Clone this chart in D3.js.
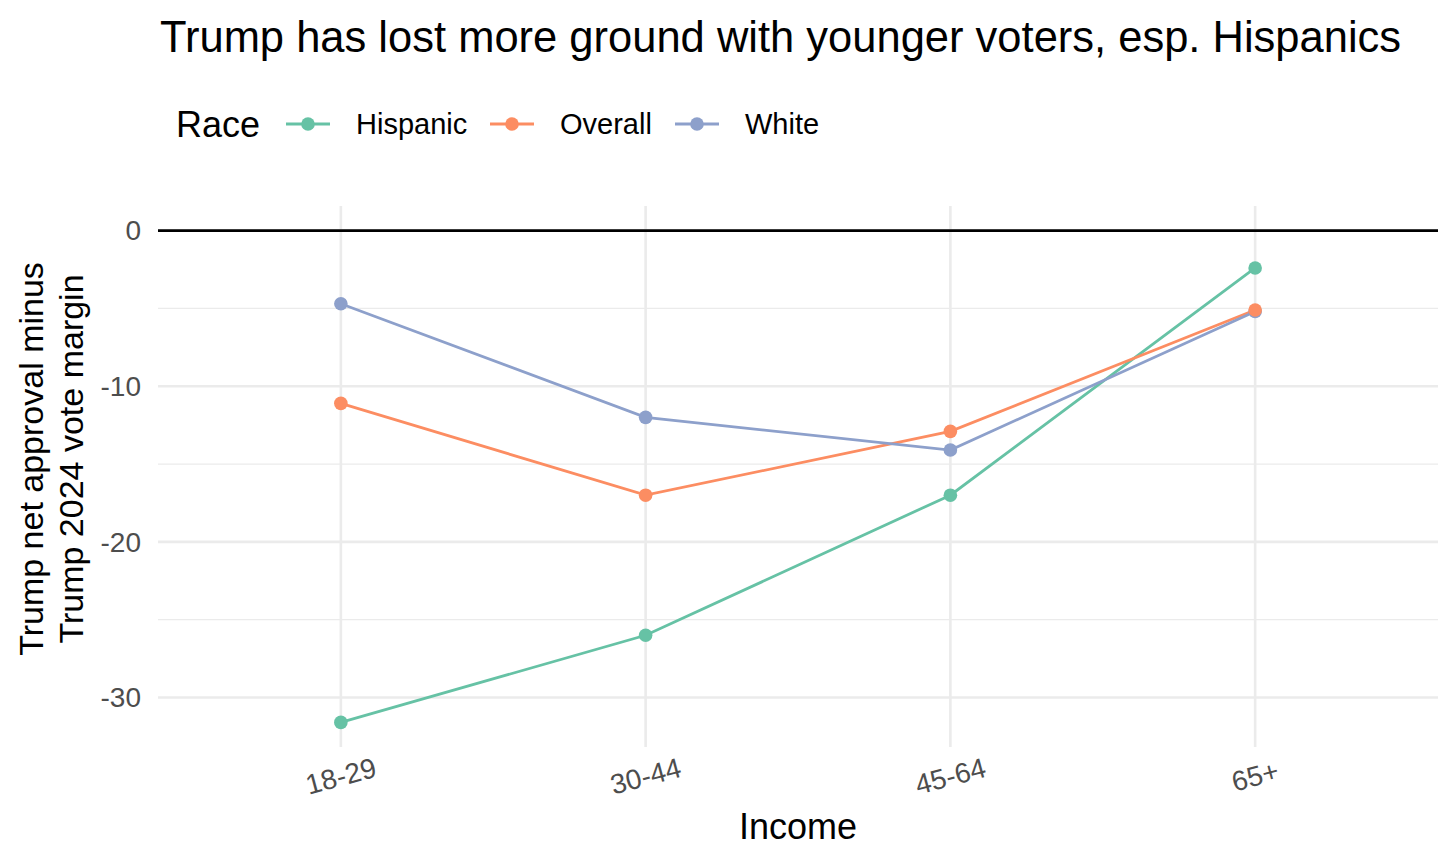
<!DOCTYPE html>
<html>
<head>
<meta charset="utf-8">
<script src="https://cdn.jsdelivr.net/npm/d3@7"></script>
<style>
  body { margin: 0; background: #fff; }
  text { font-family: "Liberation Sans", Arial, sans-serif; }
</style>
</head>
<body>
<svg id="chart" width="1456" height="864"></svg>
<script>
// data
const ageGroups = ['18-29', '30-44', '45-64', '65+']
const raceNames = ['Hispanic', 'Overall', 'White']
const hispanicVals = [-31.6, -26.0, -17.0, -2.4]
const overallVals = [-11.1, -17.0, -12.9, -5.1]
const whiteVals = [-4.7, -12.0, -14.1, -5.2]
const yTicks = [0, -10, -20, -30]
const yMinor = [-5, -15, -25]

const colours = { Hispanic: '#66c2a5', Overall: '#fc8d62', White: '#8da0cb' }

const series = [
  { name: 'Hispanic', values: hispanicVals },
  { name: 'Overall', values: overallVals },
  { name: 'White', values: whiteVals }
]

const svg = d3.select('#chart')
const panelLeft = 158, panelRight = 1438, panelTop = 206, panelBottom = 747

const x = d3.scalePoint().domain(ageGroups).range([panelLeft, panelRight]).padding(0.6)
const y = d3.scaleLinear().domain([-33.18, 1.58]).range([panelBottom, panelTop])

// title
svg.append('text')
  .attr('x', 160).attr('y', 52)
  .style('font-size', '43.5px')
  .text('Trump has lost more ground with younger voters, esp. Hispanics')

// grid
const grid = svg.append('g')
grid.selectAll('line.minor')
  .data(yMinor)
  .enter().append('line')
  .attr('x1', panelLeft).attr('x2', panelRight)
  .attr('y1', d => y(d)).attr('y2', d => y(d))
  .attr('stroke', '#ebebeb').attr('stroke-width', 1.3)
grid.selectAll('line.major')
  .data(yTicks)
  .enter().append('line')
  .attr('x1', panelLeft).attr('x2', panelRight)
  .attr('y1', d => y(d)).attr('y2', d => y(d))
  .attr('stroke', '#ebebeb').attr('stroke-width', 2.6)
grid.selectAll('line.vert')
  .data(ageGroups)
  .enter().append('line')
  .attr('x1', d => x(d)).attr('x2', d => x(d))
  .attr('y1', panelTop).attr('y2', panelBottom)
  .attr('stroke', '#ebebeb').attr('stroke-width', 2.6)

// zero line
svg.append('line')
  .attr('x1', panelLeft).attr('x2', panelRight)
  .attr('y1', y(0)).attr('y2', y(0))
  .attr('stroke', '#000').attr('stroke-width', 2.6)

// y axis labels
svg.selectAll('text.ytick')
  .data(yTicks)
  .enter().append('text')
  .attr('class', 'ytick')
  .attr('x', 141).attr('y', d => y(d))
  .attr('dy', '0.35em')
  .attr('text-anchor', 'end')
  .style('font-size', '28px').style('fill', '#4d4d4d')
  .text(d => d)

// x axis labels, tilted
svg.selectAll('text.xtick')
  .data(ageGroups)
  .enter().append('text')
  .attr('class', 'xtick')
  .attr('transform', d => `translate(${x(d)},${776}) rotate(-15)`)
  .attr('text-anchor', 'middle')
  .attr('dy', '0.35em')
  .style('font-size', '28px').style('fill', '#4d4d4d')
  .text(d => d)

// axis titles
svg.append('text')
  .attr('x', (panelLeft + panelRight) / 2).attr('y', 839)
  .attr('text-anchor', 'middle')
  .style('font-size', '36px')
  .text('Income')

const yTitle = svg.append('g')
  .attr('transform', `translate(0,${459}) rotate(-90)`)
yTitle.append('text')
  .attr('x', 0).attr('y', 43)
  .attr('text-anchor', 'middle')
  .style('font-size', '34px')
  .text('Trump net approval minus')
yTitle.append('text')
  .attr('x', 0).attr('y', 83)
  .attr('text-anchor', 'middle')
  .style('font-size', '34px')
  .text('Trump 2024 vote margin')

// lines
const line = d3.line()
  .x((v, i) => x(ageGroups[i]))
  .y(v => y(v))

svg.selectAll('path.series')
  .data(series)
  .enter().append('path')
  .attr('class', 'series')
  .attr('d', s => line(s.values))
  .attr('fill', 'none')
  .attr('stroke', s => colours[s.name])
  .attr('stroke-width', 2.8)

// points (white under the others so the orange one shows at 65+)
const pointOrder = [series[2], series[0], series[1]]
pointOrder.forEach(s => {
  svg.append('g').selectAll('circle')
    .data(s.values)
    .enter().append('circle')
    .attr('cx', (v, i) => x(ageGroups[i]))
    .attr('cy', v => y(v))
    .attr('r', 6.8)
    .attr('fill', colours[s.name])
})

// legend
const legend = svg.append('g')
legend.append('text')
  .attr('x', 176).attr('y', 137)
  .style('font-size', '36px')
  .text('Race')
const legendX = [286, 490, 675]
raceNames.forEach((name, i) => {
  const g = legend.append('g').attr('transform', `translate(${legendX[i]},${124})`)
  g.append('line')
    .attr('x1', 0).attr('x2', 44)
    .attr('stroke', colours[name]).attr('stroke-width', 2.8)
  g.append('circle')
    .attr('cx', 22).attr('cy', 0).attr('r', 6.8)
    .attr('fill', colours[name])
  g.append('text')
    .attr('x', 70).attr('y', 0).attr('dy', '0.35em')
    .style('font-size', '29px')
    .text(name)
})
</script>
</body>
</html>
